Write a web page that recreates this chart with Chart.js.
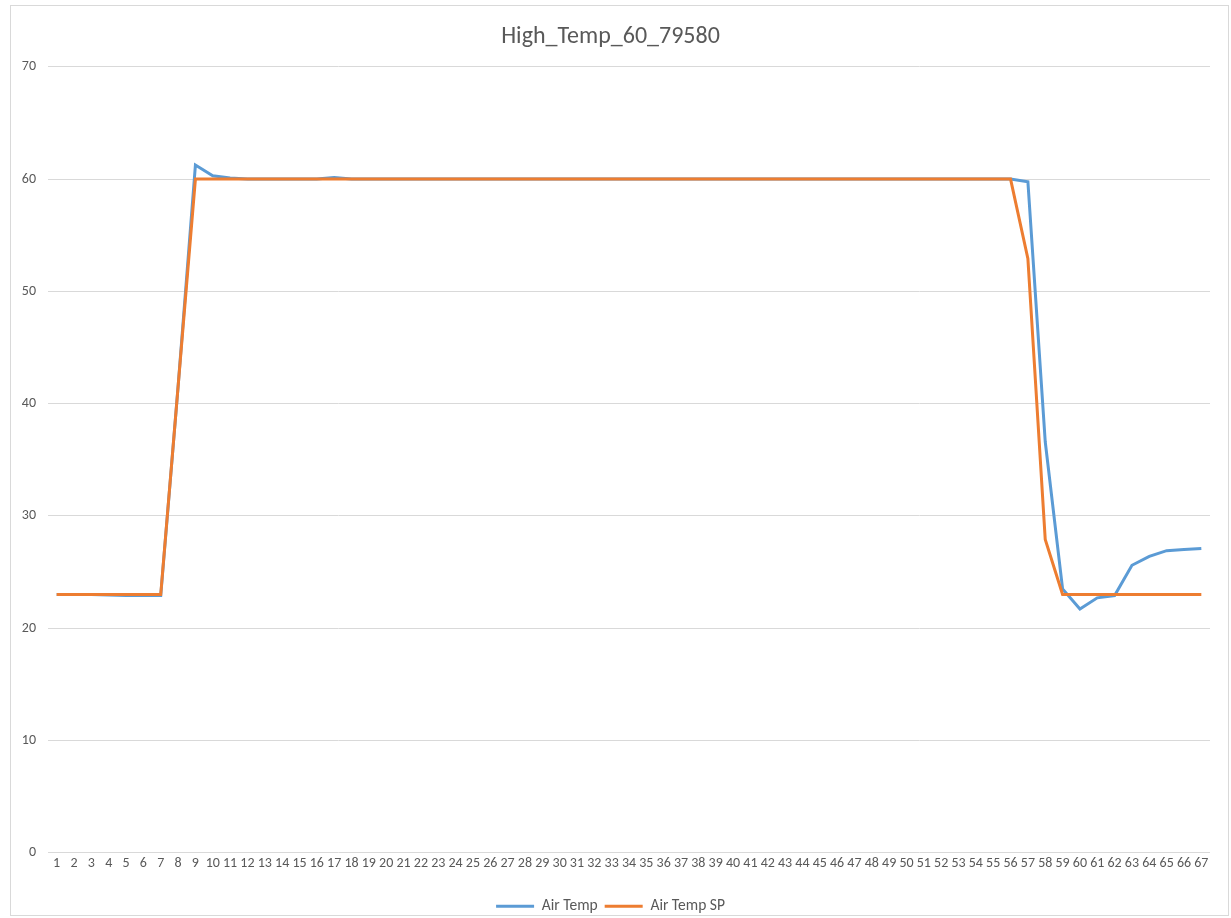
<!DOCTYPE html>
<html>
<head>
<meta charset="utf-8">
<script src="https://cdn.jsdelivr.net/npm/chart.js@4"></script>
<style>
  body { margin: 0; background: #fff; }
  #box { position: absolute; left: 10px; top: 5px; width: 1217px; height: 909px; border: 1px solid #d9d9d9; }
</style>
</head>
<body>
<div id="box"><canvas id="chart"></canvas></div>
<script>
const labels = [];
for (let i = 1; i <= 67; i++) labels.push(String(i));

const airTemp = [
  23, 23, 23, 22.95, 22.9, 22.9, 22.9, 41.5, 61.25, 60.3,
  60.1, 60, 60, 60, 60, 60, 60.15, 60, 60, 60,
  60, 60, 60, 60, 60, 60, 60, 60, 60, 60,
  60, 60, 60, 60, 60, 60, 60, 60, 60, 60,
  60, 60, 60, 60, 60, 60, 60, 60, 60, 60,
  60, 60, 60, 60, 60, 60, 59.75, 36.6, 23.5, 21.7,
  22.7, 22.9, 25.6, 26.4, 26.9, 27.0, 27.1
];

const airTempSP = [
  23, 23, 23, 23, 23, 23, 23, 41.5, 60, 60,
  60, 60, 60, 60, 60, 60, 60, 60, 60, 60,
  60, 60, 60, 60, 60, 60, 60, 60, 60, 60,
  60, 60, 60, 60, 60, 60, 60, 60, 60, 60,
  60, 60, 60, 60, 60, 60, 60, 60, 60, 60,
  60, 60, 60, 60, 60, 60, 52.9, 27.9, 23, 23,
  23, 23, 23, 23, 23, 23, 23
];

const font = 'Carlito, "Liberation Sans Narrow", "Liberation Sans", sans-serif';
const grey = '#595959';

const canvas = document.getElementById('chart');
canvas.width = 1217;
canvas.height = 909;

new Chart(canvas.getContext('2d'), {
  type: 'line',
  data: {
    labels: labels,
    datasets: [
      {
        label: 'Air Temp',
        data: airTemp,
        borderColor: '#5B9BD5',
        backgroundColor: '#5B9BD5',
        borderWidth: 3,
        pointRadius: 0,
        tension: 0,
        order: 1
      },
      {
        label: 'Air Temp SP',
        data: airTempSP,
        borderColor: '#ED7D31',
        backgroundColor: '#ED7D31',
        borderWidth: 3,
        pointRadius: 0,
        tension: 0,
        order: 0
      }
    ]
  },
  options: {
    responsive: false,
    animation: false,
    layout: { padding: { left: 0, right: 18, top: 6, bottom: -9 } },
    plugins: {
      title: {
        display: true,
        text: 'High_Temp_60_79580',
        color: grey,
        font: { family: font, size: 24, weight: 'normal' },
        padding: { top: 11, bottom: 15 }
      },
      legend: {
        position: 'bottom',
        labels: {
          usePointStyle: true,
          pointStyle: 'line',
          pointStyleWidth: 38,
          color: grey,
          boxWidth: 38,
          font: { family: font, size: 15.5 },
          padding: 7,
          sort: (a, b) => a.datasetIndex - b.datasetIndex
        }
      },
      tooltip: { enabled: false }
    },
    scales: {
      x: {
        offset: true,
        afterFit: s => { s.height += 18; },
        grid: { display: false, drawTicks: false },
        border: { display: false },
        ticks: {
          autoSkip: false,
          maxRotation: 0,
          minRotation: 0,
          color: grey,
          padding: 2,
          font: { family: font, size: 14 }
        }
      },
      y: {
        min: 0,
        max: 70,
        afterFit: s => { s.width = 37; },
        grid: { color: '#d9d9d9', drawTicks: false },
        border: { display: false },
        ticks: {
          stepSize: 10,
          color: grey,
          padding: 12,
          font: { family: font, size: 14 }
        }
      }
    }
  }
});
</script>
</body>
</html>
